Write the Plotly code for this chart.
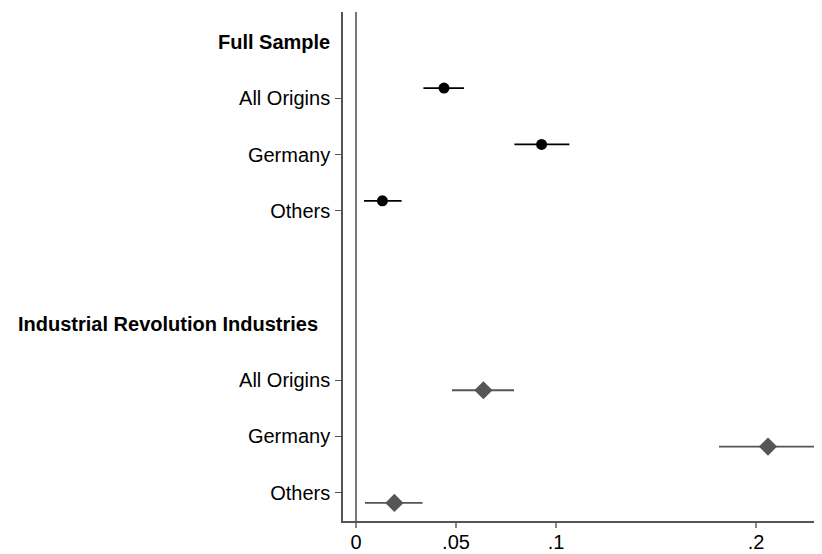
import plotly.graph_objects as go

# Data
groups = ["Full Sample", "Industrial Revolution Industries"]
labels = ["All Origins", "Germany", "Others"]
full_coef = [0.044, 0.0928, 0.0132]
full_lo = [0.0337, 0.0792, 0.004]
full_hi = [0.054, 0.1067, 0.0228]
ind_coef = [0.0637, 0.206, 0.0192]
ind_lo = [0.048, 0.1815, 0.0045]
ind_hi = [0.079, 0.2307, 0.0333]
xtick_vals = [0, 0.05, 0.1, 0.2]
xtick_text = ["0", ".05", ".1", ".2"]

# slot positions: heading 0, rows 1-3, gap 4, heading 5, rows 6-8
full_slots = [1, 2, 3]
ind_slots = [6, 7, 8]
offset = 0.18

fig = go.Figure()

fig.add_shape(type="line", xref="x", yref="paper", x0=0, x1=0, y0=0, y1=1,
              line=dict(color="#555555", width=1.6), layer="below")

# x tick marks drawn as pixel-length shapes so the labels can sit closer
for v in xtick_vals:
    fig.add_shape(type="line", xref="x", yref="paper", x0=v, x1=v,
                  ysizemode="pixel", yanchor=0, y0=0, y1=-7,
                  line=dict(color="#555555", width=1.4))

fig.add_trace(go.Scatter(
    x=full_coef, y=[s - offset for s in full_slots], mode="markers",
    marker=dict(symbol="circle", size=11, color="#000000"),
    error_x=dict(type="data", symmetric=False,
                 array=[h - c for h, c in zip(full_hi, full_coef)],
                 arrayminus=[c - l for c, l in zip(full_coef, full_lo)],
                 color="#000000", thickness=1.8, width=0),
    showlegend=False))

fig.add_trace(go.Scatter(
    x=ind_coef, y=[s + offset for s in ind_slots], mode="markers",
    marker=dict(symbol="diamond", size=14, color="#555555"),
    error_x=dict(type="data", symmetric=False,
                 array=[h - c for h, c in zip(ind_hi, ind_coef)],
                 arrayminus=[c - l for c, l in zip(ind_coef, ind_lo)],
                 color="#555555", thickness=1.8, width=0),
    showlegend=False))

font = dict(family="Liberation Sans, Arial, sans-serif", size=20, color="#000000")

# page has an 8px body margin; figure is sized/offset to compensate
fig.update_layout(
    width=814, height=546,
    margin=dict(l=335, r=0, t=4, b=33),
    plot_bgcolor="white", paper_bgcolor="white",
    font=font,
    xaxis=dict(range=[-0.0065, 0.233], tickvals=xtick_vals, ticktext=xtick_text,
               showgrid=False, zeroline=False, showline=True, linecolor="#555555",
               linewidth=1.6, ticks="", tickfont=font, ticklabelstandoff=2,
               automargin=False),
    yaxis=dict(range=[8.5, -0.53], tickvals=full_slots + ind_slots,
               ticktext=labels + labels, showgrid=False, zeroline=False,
               showline=True, linecolor="#555555", linewidth=1.6,
               ticks="outside", ticklen=6, tickcolor="#555555", tickwidth=1.4,
               tickfont=font, ticklabelstandoff=1, automargin=False),
)

fig.add_annotation(text="<b>" + groups[0] + "</b>", xref="paper", yref="y",
                   x=0, y=0, xanchor="right", xshift=-11, showarrow=False,
                   font=font)
fig.add_annotation(text="<b>" + groups[1] + "</b>", xref="paper", yref="y",
                   x=0, y=5, xanchor="right", xshift=-23, showarrow=False,
                   font=font)

fig.write_html("out.html")
